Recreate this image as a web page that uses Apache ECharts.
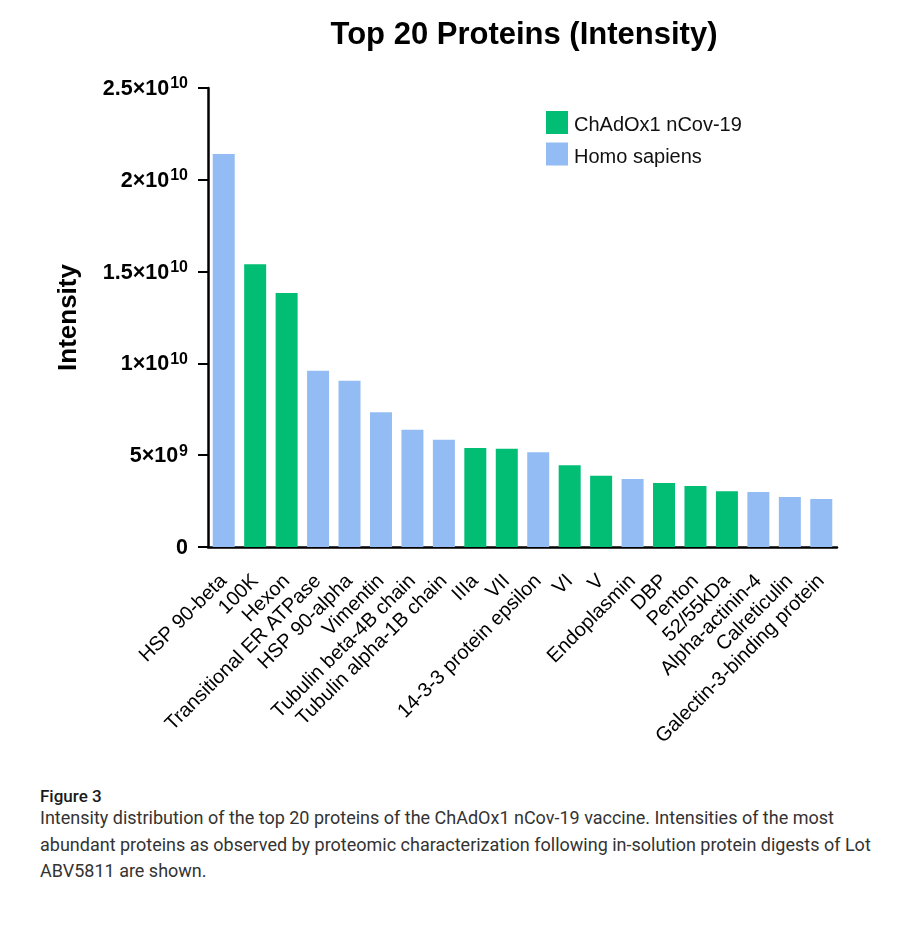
<!DOCTYPE html>
<html>
<head>
<meta charset="utf-8">
<script src="https://cdn.jsdelivr.net/npm/echarts@6/dist/echarts.min.js"></script>
<style>
  html, body { margin: 0; padding: 0; background: #fff; }
  #chart { position: absolute; left: 0; top: 0; width: 900px; height: 770px; }
  #fig { position: absolute; left: 40px; top: 786px; font-family: Roboto, sans-serif; font-weight: 500; font-size: 17px; color: #1a1a1a; }
  #cap { position: absolute; left: 40px; top: 805px; font-family: Roboto, sans-serif; font-size: 18px; line-height: 26.5px; color: #333; white-space: nowrap; }
</style>
</head>
<body>
<div id="chart"></div>
<div id="fig">Figure 3</div>
<div id="cap">Intensity distribution of the top 20 proteins of the ChAdOx1 nCov-19 vaccine. Intensities of the most<br>abundant proteins as observed by proteomic characterization following in-solution protein digests of Lot<br>ABV5811 are shown.</div>
<script>
var categories = ['HSP 90-beta', '100K', 'Hexon', 'Transitional ER ATPase', 'HSP 90-alpha', 'Vimentin',
  'Tubulin beta-4B chain', 'Tubulin alpha-1B chain', 'IIIa', 'VII', '14-3-3 protein epsilon', 'VI', 'V',
  'Endoplasmin', 'DBP', 'Penton', '52/55kDa', 'Alpha-actinin-4', 'Calreticulin', 'Galectin-3-binding protein'];
var intensities = [2.14e10, 1.54e10, 1.383e10, 0.96e10, 0.906e10, 0.734e10,
  0.639e10, 0.584e10, 0.539e10, 0.535e10, 0.516e10, 0.445e10, 0.388e10,
  0.370e10, 0.349e10, 0.332e10, 0.303e10, 0.300e10, 0.272e10, 0.261e10];
var origin = ['H', 'C', 'C', 'H', 'H', 'H', 'H', 'H', 'C', 'C', 'H', 'C', 'C', 'H', 'C', 'C', 'C', 'H', 'H', 'H'];
var seriesNames = ['ChAdOx1 nCov-19', 'Homo sapiens'];
var seriesKeys = ['C', 'H'];
var yTickValues = [0, 5e9, 1e10, 1.5e10, 2e10, 2.5e10];
var yTickMantissa = ['0', '5×10', '1×10', '1.5×10', '2×10', '2.5×10'];
var yTickExponent = ['', '9', '10', '10', '10', '10'];

var colors = ['#02BD74', '#93BCF4'];

var series = seriesKeys.map(function (k, si) {
  return {
    name: seriesNames[si],
    type: 'bar',
    stack: 'all',
    barWidth: 22,
    itemStyle: { color: colors[si] },
    data: intensities.map(function (v, i) { return origin[i] === k ? v : '-'; })
  };
});

var chart = echarts.init(document.getElementById('chart'), null, { renderer: 'canvas' });
chart.setOption({
  animation: false,
  backgroundColor: '#fff',
  title: {
    text: 'Top 20 Proteins (Intensity)',
    left: 524, top: 20, textAlign: 'center', padding: 0,
    textStyle: { fontFamily: 'Liberation Sans', fontWeight: 'bold', fontSize: 31, color: '#000' }
  },
  legend: {
    left: 546, top: 111, orient: 'vertical', padding: 0,
    itemWidth: 22, itemHeight: 23, itemGap: 7,
    icon: 'rect',
    formatter: function (name) { return '{t|' + name + '}'; },
    textStyle: {
      fontFamily: 'Liberation Sans', fontSize: 20, color: '#111',
      rich: { t: { fontFamily: 'Liberation Sans', fontSize: 20, color: '#111', padding: [6, 0, 0, 1] } }
    },
    data: seriesNames
  },
  grid: { left: 208, right: 63, top: 88, bottom: 223, containLabel: false },
  xAxis: {
    type: 'category',
    data: categories,
    axisLine: { lineStyle: { color: '#000', width: 2.5 } },
    axisTick: { alignWithLabel: true, length: 12, lineStyle: { color: '#000', width: 2 } },
    axisLabel: { rotate: 45, interval: 0, margin: 31, fontFamily: 'Liberation Sans', fontSize: 20, color: '#000' }
  },
  yAxis: {
    type: 'value',
    min: 0, max: 2.5e10, interval: 5e9,
    name: 'Intensity',
    nameLocation: 'middle',
    nameGap: 126,
    nameTextStyle: { fontFamily: 'Liberation Sans', fontWeight: 'bold', fontSize: 26, color: '#000' },
    splitLine: { show: false },
    axisLine: { show: true, lineStyle: { color: '#000', width: 2.5 } },
    axisTick: { show: true, length: 10, lineStyle: { color: '#000', width: 2 } },
    axisLabel: {
      margin: 20,
      formatter: function (v) {
        var i = yTickValues.indexOf(v);
        if (i < 0) return '';
        return yTickExponent[i] ? '{m|' + yTickMantissa[i] + '}{s|' + yTickExponent[i] + '}' : '{m|' + yTickMantissa[i] + '}';
      },
      rich: {
        m: { fontFamily: 'Liberation Sans', fontWeight: 'bold', fontSize: 21.5, color: '#000', lineHeight: 24, verticalAlign: 'bottom' },
        s: { fontFamily: 'Liberation Sans', fontWeight: 'bold', fontSize: 16, color: '#000', lineHeight: 18, verticalAlign: 'top', padding: [0, 0, 0, 1] }
      }
    }
  },
  series: series
});
</script>
</body>
</html>
